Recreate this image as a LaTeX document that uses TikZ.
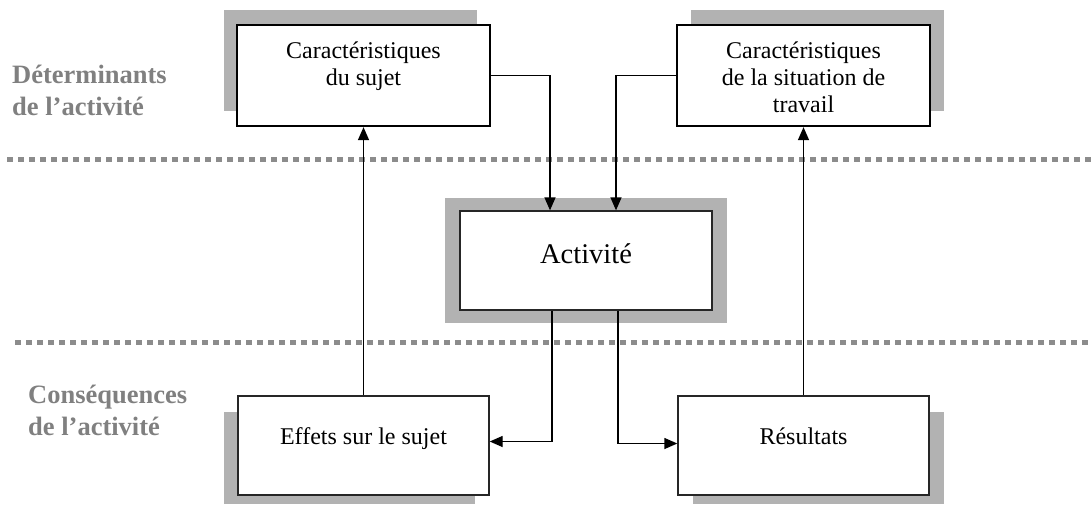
\documentclass[tikz,border=0pt]{standalone}
\usepackage{fontspec}
\setmainfont{Liberation Serif}
\usetikzlibrary{arrows.meta}
\definecolor{shadowgray}{RGB}{178,178,178}
\definecolor{labelgray}{RGB}{128,128,128}
\definecolor{dotgray}{RGB}{140,140,140}
\begin{document}
\begin{tikzpicture}[x=1pt,y=-1pt,
  topbox/.style={draw=black,line width=2.3pt,fill=white,minimum width=253pt,minimum height=101pt,inner sep=0pt},
  botbox/.style={draw=black!85,line width=1.4pt,fill=white,minimum width=251pt,minimum height=99pt,inner sep=0pt},
  actbox/.style={draw=black!85,line width=1.3pt,fill=white,minimum width=252pt,minimum height=99pt,inner sep=0pt},
  boxtext/.style={font=\fontsize{24}{27}\selectfont,align=center,inner sep=0pt,anchor=base},
  sidelabel/.style={font=\fontsize{26.5}{32}\selectfont\bfseries,text=labelgray,align=left,inner sep=0pt,anchor=base west},
  sep/.style={draw=dotgray,line width=5.5pt,dash pattern=on 6pt off 5pt},
  conn/.style={draw=black,line width=1.4pt,-{Triangle[length=13pt,width=11pt]}},
  link/.style={draw=black,line width=1.3pt}]
\useasboundingbox (0,0) rectangle (1091,504);
% separators
\draw[sep] (7,159.5) -- (1091,159.5);
\draw[sep] (15,342.5) -- (1091,342.5);
% side labels (base = last line)
\node[sidelabel] (det) at (12,115) {Déterminants\\de l’activité};
\node[sidelabel] (cons) at (28,435) {Conséquences\\de l’activité};
% shadows
\fill[shadowgray] (224,10) rectangle (477,111);
\fill[shadowgray] (691,10) rectangle (944,111);
\fill[shadowgray] (224,412) rectangle (475,504);
\fill[shadowgray] (693,412) rectangle (944,504);
\fill[shadowgray] (445,198) rectangle (727,323);
% boxes
\node[topbox] (tl) at (363.5,75.5) {};
\node[topbox] (tr) at (803.5,75.5) {};
\node[actbox] (act) at (586,260.5) {};
\node[botbox] (ef) at (363.5,445.5) {};
\node[botbox] (res) at (803.5,445.5) {};
% texts (base = last line)
\node[boxtext] (tlt) at (363.5,85) {Caractéristiques\\du sujet};
\node[boxtext] (trt) at (803.5,112) {Caractéristiques\\de la situation de\\travail};
\node[font=\fontsize{28.5}{32}\selectfont,inner sep=0pt,anchor=base] (actt) at (586,263) {Activité};
\node[boxtext] (eft) at (363.5,444) {Effets sur le sujet};
\node[boxtext] (rest) at (803.5,444) {Résultats};
% connectors
\draw[conn] (tl.east) -| ([xshift=-36pt]act.north);
\draw[conn] (tr.west) -| ([xshift=30pt]act.north);
\draw[conn] ([xshift=-34pt]act.south) |- ([yshift=4pt]ef.east);
\draw[conn] ([xshift=32pt]act.south) |- ([yshift=2pt]res.west);
\draw[conn] (ef.north) -- (tl.south);
\draw[conn] (res.north) -- (tr.south);
\end{tikzpicture}
\end{document}
